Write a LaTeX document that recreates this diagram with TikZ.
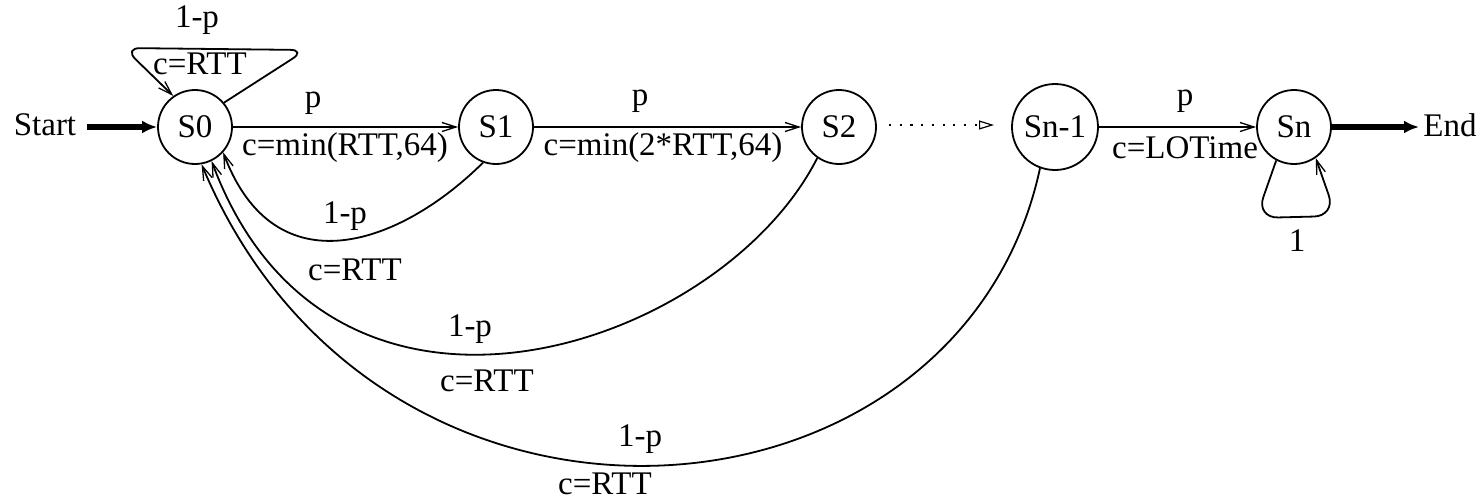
\documentclass[tikz,border=0pt]{standalone}
\usepackage{fontspec}
\setmainfont{Liberation Serif}
\usetikzlibrary{arrows.meta}
\begin{document}
\begin{tikzpicture}[x=1pt,y=-1pt,
  font=\fontsize{33}{39}\selectfont,
  line width=1.8pt,
  state/.style={circle,draw,minimum size=74pt,inner sep=0pt},
  lbl/.style={inner sep=0pt},
  arr/.style={-{Straight Barb[length=14pt,width=9pt,line width=1.3pt]}},
  thick arr/.style={line width=6pt,-{Latex[length=15pt,width=13pt]}},
  rounded loop/.style={rounded corners=16pt}]
\useasboundingbox (0,0) rectangle (1484,501);

% states
\node[state] (S0) at (195,127) {S0};
\node[state] (S1) at (496,127) {S1};
\node[state] (S2) at (839,127) {S2};
\node[state,minimum size=86pt] (Sn1) at (1055,127) {Sn-1};
\node[state] (Sn) at (1294,127) {Sn};

% start / end
\node[lbl] (start) at (45,125) {Start};
\node[lbl] (end) at (1450,125) {End};
\coordinate (startarr) at (87,127);
\coordinate (endarr) at (1419,127);
\draw[thick arr] (startarr) -- (S0);
\draw[thick arr] (Sn) -- (endarr);

% forward edges
\draw[arr] (S0) -- (S1);
\node[lbl] (p1) at (313,103) {p};
\node[lbl] (c1) at (345,148) {c=min(RTT,64)};
\draw[arr] (S1) -- (S2);
\node[lbl] (p2) at (640,101) {p};
\node[lbl] (c2) at (663,148) {c=min(2*RTT,64)};
\coordinate (d1) at (889,125);
\coordinate (d2) at (994,125);
\draw[line width=2.2pt,dash pattern=on 2.2pt off 8.5pt,
  -{Triangle[open,length=15pt,width=9pt,line width=1.2pt]}] (d1) -- (d2);
\draw[arr] (Sn1) -- (Sn);
\node[lbl] (p3) at (1185,101) {p};
\node[lbl] (c3) at (1185,148) {c=LOTime};

% self loop on S0
\draw[arr,rounded loop] (S0.40) -- (306,50) -- (124,48) -- (S0.125);
\node[lbl] (lp0) at (197,20) {1-p};
\node[lbl] (lc0) at (200,64) {c=RTT};

% self loop on Sn
\draw[arr,rounded corners=22pt] (Sn.242) -- (1256,218) -- (1336,216) -- (Sn.-55);
\node[lbl] (one) at (1297,241) {1};

% back edges
\draw[arr] (S1.250) .. controls (400,245) and (275,290) .. (S0.-42);
\node[lbl] (lp1) at (345,216) {1-p};
\node[lbl] (lc1) at (355,270) {c=RTT};

\draw[arr] (S2.235) .. controls (720,350) and (330,480) .. (S0.-64);
\node[lbl] (lp2) at (470,329) {1-p};
\node[lbl] (lc2) at (487,381) {c=RTT};

\draw[arr] (Sn1.250) .. controls (960,540) and (380,590) .. (S0.-80);
\node[lbl] (lp3) at (640,439) {1-p};
\node[lbl] (lc3) at (605,484) {c=RTT};
\end{tikzpicture}
\end{document}
